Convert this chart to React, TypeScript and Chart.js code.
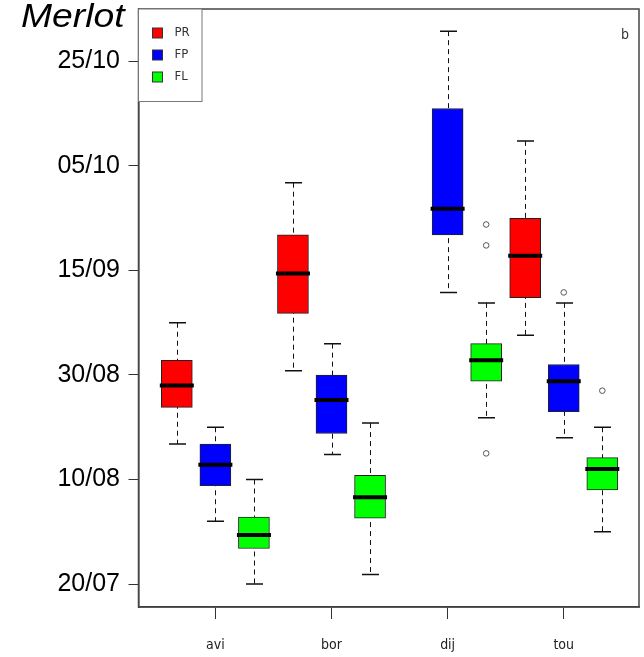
import React, { useEffect, useRef } from "react";
import { Chart, registerables } from "chart.js";

Chart.register(...registerables);

// Categories (sites) and y-axis tick labels (dates)
const categories = ["avi", "bor", "dij", "tou"];
const dateTicks = ["20/07", "10/08", "30/08", "15/09", "05/10", "25/10"];

// Series names and colours
const seriesNames = ["PR", "FP", "FL"];
const seriesColors = ["#ff0000", "#0000ff", "#00ff00"];

// Five-number summaries [lowWhisker, q1, median, q3, highWhisker]
// in axis units where value i is the date dateTicks[i]
const prStats: (number[] | null)[] = [
  [1.34, 1.69, 1.9, 2.14, 2.5],
  [2.04, 2.59, 2.97, 3.34, 3.84],
  null,
  [2.38, 2.74, 3.14, 3.5, 4.24],
];
const fpStats: (number[] | null)[] = [
  [0.6, 0.94, 1.14, 1.34, 1.5],
  [1.24, 1.44, 1.76, 2.0, 2.3],
  [2.79, 3.34, 3.59, 4.55, 5.29],
  [1.4, 1.65, 1.94, 2.1, 2.69],
];
const flStats: (number[] | null)[] = [
  [0.0, 0.34, 0.47, 0.64, 1.0],
  [0.09, 0.63, 0.83, 1.04, 1.54],
  [1.59, 1.94, 2.14, 2.3, 2.69],
  [0.5, 0.9, 1.1, 1.21, 1.5],
];

// Outliers per category
const prOutliers: number[][] = [[], [], [], []];
const fpOutliers: number[][] = [[], [], [], [2.79]];
const flOutliers: number[][] = [[], [], [3.44, 3.24, 1.25], [1.85]];

const allStats = [prStats, fpStats, flStats];
const allOutliers = [prOutliers, fpOutliers, flOutliers];

// layout constants
const GROUP_OFFSET = 0.332;
const BOX_WIDTH = 31;
const NARROW = '"Liberation Sans Narrow", "DejaVu Sans Condensed", "Liberation Sans", sans-serif';
const SANS = '"Liberation Sans", Arial, sans-serif';

const offsetFor = (s: number) => (s - 1) * GROUP_OFFSET;

const boxExtras = {
  id: "boxExtras",
  beforeDatasetsDraw(chart: any) {
    const { ctx, scales } = chart;
    const xs = scales.x;
    const ys = scales.y;
    ctx.save();
    allStats.forEach((stats, s) => {
      stats.forEach((st, i) => {
        if (!st) return;
        const x = Math.round(xs.getPixelForValue(i + offsetFor(s))) + 0.5;
        const yLow = ys.getPixelForValue(st[0]);
        const yHigh = ys.getPixelForValue(st[4]);
        ctx.strokeStyle = "#111";
        ctx.lineWidth = 1;
        ctx.setLineDash([5, 4]);
        ctx.beginPath();
        ctx.moveTo(x, yHigh);
        ctx.lineTo(x, yLow);
        ctx.stroke();
        ctx.setLineDash([]);
        ctx.lineWidth = 1.5;
        ctx.beginPath();
        ctx.moveTo(x - 8.5, yHigh);
        ctx.lineTo(x + 8.5, yHigh);
        ctx.moveTo(x - 8.5, yLow);
        ctx.lineTo(x + 8.5, yLow);
        ctx.stroke();
      });
    });
    ctx.restore();
  },
  afterDatasetsDraw(chart: any) {
    const { ctx, scales } = chart;
    const xs = scales.x;
    const ys = scales.y;
    ctx.save();
    allStats.forEach((stats, s) => {
      stats.forEach((st, i) => {
        if (!st) return;
        const x = xs.getPixelForValue(i + offsetFor(s));
        const yMed = ys.getPixelForValue(st[2]);
        ctx.strokeStyle = "#000";
        ctx.lineWidth = 4;
        ctx.beginPath();
        ctx.moveTo(x - BOX_WIDTH / 2 - 1.5, yMed);
        ctx.lineTo(x + BOX_WIDTH / 2 + 1.5, yMed);
        ctx.stroke();
      });
    });
    ctx.restore();
  },
  afterDraw(chart: any) {
    const { ctx, chartArea } = chart;
    ctx.save();
    // plot frame
    ctx.strokeStyle = "#444";
    ctx.lineWidth = 1.5;
    ctx.strokeRect(chartArea.left, chartArea.top, chartArea.right - chartArea.left, chartArea.bottom - chartArea.top);

    // title
    ctx.fillStyle = "#000";
    ctx.font = `italic 33px ${SANS}`;
    ctx.textBaseline = "alphabetic";
    ctx.textAlign = "left";
    ctx.save();
    ctx.translate(21, 27);
    ctx.scale(1.13, 1);
    ctx.fillText("Merlot", 0, 0);
    ctx.restore();

    // legend box
    const lx = chartArea.left;
    const ly = chartArea.top;
    ctx.strokeStyle = "#777";
    ctx.lineWidth = 1;
    ctx.fillStyle = "#fff";
    ctx.fillRect(lx, ly, 63.5, 92.5);
    ctx.strokeRect(lx, ly, 63.5, 92.5);
    ctx.font = `13px ${NARROW}`;
    ctx.textBaseline = "middle";
    chart.data.datasets.slice(0, 3).forEach((ds: any, k: number) => {
      const cy = ly + 24 + k * 22;
      ctx.fillStyle = ds.backgroundColor;
      ctx.fillRect(lx + 14, cy - 5, 10, 10);
      ctx.strokeStyle = "#333";
      ctx.strokeRect(lx + 14, cy - 5, 10, 10);
      ctx.fillStyle = "#333";
      ctx.fillText(ds.label, lx + 36, cy);
    });

    // panel letter
    ctx.font = `14px ${NARROW}`;
    ctx.fillStyle = "#333";
    ctx.textAlign = "center";
    ctx.fillText("b", chartArea.right - 14, 35);
    ctx.restore();
  },
};

export default function App() {
  const canvasRef = useRef<HTMLCanvasElement | null>(null);

  useEffect(() => {
    const canvas = canvasRef.current;
    if (!canvas) return;

    const boxDatasets = allStats.map((stats, s) => ({
      type: "bar" as const,
      label: seriesNames[s],
      data: stats
        .map((st, i) => (st ? { x: i + offsetFor(s), y: [st[1], st[3]] } : null))
        .filter((d) => d !== null),
      backgroundColor: seriesColors[s],
      borderColor: "#222",
      borderWidth: 1,
      borderSkipped: false,
      grouped: false,
      barThickness: BOX_WIDTH,
      order: 2,
    }));

    const outlierData: { x: number; y: number }[] = [];
    allOutliers.forEach((outs, s) => {
      outs.forEach((vals, i) => {
        vals.forEach((v) => outlierData.push({ x: i + offsetFor(s), y: v }));
      });
    });

    const chart = new Chart(canvas, {
      type: "bar",
      data: {
        datasets: [
          ...boxDatasets,
          {
            type: "scatter" as const,
            label: "outliers",
            data: outlierData,
            pointStyle: "circle",
            pointRadius: 2.8,
            backgroundColor: "rgba(0,0,0,0)",
            borderColor: "#555",
            borderWidth: 1,
            order: 1,
          },
        ] as any,
      },
      options: {
        responsive: false,
        animation: false,
        layout: { padding: { top: 9, right: 3, left: 0, bottom: 0 } },
        plugins: {
          legend: { display: false },
          tooltip: { enabled: false },
          title: { display: false },
        },
        scales: {
          x: {
            type: "linear",
            min: -0.662,
            max: 3.648,
            offset: false,
            afterBuildTicks: (scale: any) => {
              scale.ticks = categories.map((_, i) => ({ value: i }));
            },
            afterFit: (scale: any) => {
              scale.height = 50;
              scale.paddingLeft = 0;
              scale.paddingRight = 0;
            },
            ticks: {
              callback: (v: any) => categories[v as number] ?? "",
              font: { family: NARROW, size: 14 },
              color: "#222",
              padding: 18,
              maxRotation: 0,
              autoSkip: false,
            },
            grid: {
              offset: false,
              drawOnChartArea: false,
              drawTicks: true,
              tickLength: 12,
              color: "#333",
            },
            border: { color: "#333", width: 1.5 },
          },
          y: {
            type: "linear",
            min: -0.22,
            max: 5.502,
            afterBuildTicks: (scale: any) => {
              scale.ticks = dateTicks.map((_, i) => ({ value: i }));
            },
            afterFit: (scale: any) => {
              scale.width = 138.5;
              scale.paddingTop = 0;
              scale.paddingBottom = 0;
            },
            ticks: {
              callback: (v: any) => dateTicks[v as number] ?? "",
              font: { family: SANS, size: 25 },
              color: "#000",
              padding: 8.5,
              autoSkip: false,
            },
            grid: {
              drawOnChartArea: false,
              drawTicks: true,
              tickLength: 10,
              color: "#333",
            },
            border: { color: "#333", width: 1.5 },
          },
        },
      } as any,
      plugins: [boxExtras],
    });

    return () => chart.destroy();
  }, []);

  return (
    <div style={{ position: "absolute", left: 0, top: 0, width: 644, height: 657, background: "#fff" }}>
      <canvas ref={canvasRef} width={644} height={657} style={{ display: "block" }} />
    </div>
  );
}
